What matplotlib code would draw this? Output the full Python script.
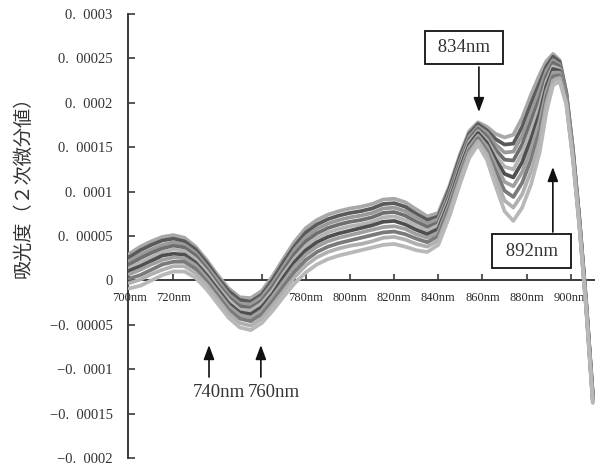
import matplotlib
matplotlib.use('Agg')
import matplotlib.pyplot as plt

# ---------------- data (values in units of 1e-5) ----------------
wavelengths = [700, 705, 710, 715, 720, 725, 730, 735, 740, 745, 750, 755, 760, 765, 770,
               775, 780, 785, 790, 795, 800, 805, 810, 815, 820, 825, 830, 835, 840, 845,
               850, 854, 858, 862, 866, 870, 874, 878, 882, 886, 889, 892, 895, 898, 901,
               904, 907, 910]

s1 = [3.0, 3.8, 4.4, 4.9, 5.1, 4.8, 3.8, 2.3, 0.6, -0.9, -1.9, -2.0, -1.2, 0.5, 2.5, 4.4, 5.9, 6.8, 7.4, 7.8,
      8.1, 8.3, 8.6, 9.1, 9.2, 8.8, 8.0, 7.2, 7.6, 10.6, 14.3, 16.8, 17.8, 17.3, 16.5, 16.1, 16.4, 18.3, 20.9, 23.2,
      24.7, 25.5, 24.8, 21.2, 14.8, 6.8, -2.4, -12.8]
s2 = [2.6, 3.4, 4.0, 4.5, 4.7, 4.4, 3.5, 2.0, 0.3, -1.2, -2.2, -2.4, -1.6, 0.1, 2.1, 3.9, 5.4, 6.3, 6.9, 7.3,
      7.6, 7.8, 8.1, 8.6, 8.7, 8.3, 7.5, 6.8, 7.2, 10.3, 14.0, 16.5, 17.6, 16.9, 15.9, 15.3, 15.4, 17.3, 19.9, 22.3,
      24.1, 25.2, 24.6, 21.1, 14.7, 6.7, -2.5, -12.9]
s3 = [2.2, 2.9, 3.5, 4.0, 4.3, 4.0, 3.1, 1.6, 0.0, -1.6, -2.6, -2.7, -1.9, -0.3, 1.6, 3.5, 4.9, 5.8, 6.4, 6.8,
      7.1, 7.3, 7.6, 8.1, 8.2, 7.8, 7.1, 6.4, 6.9, 9.9, 13.6, 16.2, 17.3, 16.6, 15.3, 14.4, 14.5, 16.3, 18.9, 21.5,
      23.6, 24.8, 24.3, 20.9, 14.6, 6.6, -2.6, -13.0]
s4 = [1.8, 2.5, 3.1, 3.6, 3.9, 3.7, 2.8, 1.3, -0.4, -1.9, -2.9, -3.1, -2.3, -0.7, 1.2, 3.0, 4.4, 5.3, 5.9, 6.3,
      6.6, 6.8, 7.1, 7.6, 7.7, 7.3, 6.6, 6.0, 6.5, 9.6, 13.3, 15.9, 17.1, 16.2, 14.7, 13.6, 13.5, 15.3, 17.9, 20.6,
      23.0, 24.5, 24.1, 20.8, 14.4, 6.5, -2.6, -13.1]
s5 = [1.4, 2.0, 2.6, 3.2, 3.5, 3.3, 2.4, 1.0, -0.7, -2.2, -3.3, -3.4, -2.6, -1.1, 0.8, 2.5, 3.9, 4.8, 5.4, 5.8,
      6.1, 6.3, 6.6, 7.1, 7.2, 6.8, 6.2, 5.6, 6.2, 9.2, 13.0, 15.6, 16.8, 15.8, 14.1, 12.8, 12.5, 14.3, 16.9, 19.7,
      22.4, 24.1, 23.8, 20.6, 14.3, 6.4, -2.7, -13.2]
s6 = [1.1, 1.6, 2.2, 2.8, 3.0, 2.9, 2.0, 0.6, -1.0, -2.6, -3.6, -3.8, -3.0, -1.5, 0.4, 2.1, 3.4, 4.3, 4.9, 5.3,
      5.6, 5.9, 6.2, 6.6, 6.7, 6.3, 5.7, 5.2, 5.8, 8.9, 12.7, 15.3, 16.6, 15.5, 13.6, 12.0, 11.6, 13.3, 15.9, 18.9,
      21.9, 23.8, 23.6, 20.5, 14.2, 6.3, -2.8, -13.3]
s7 = [0.7, 1.2, 1.8, 2.3, 2.6, 2.5, 1.7, 0.3, -1.3, -2.9, -3.9, -4.2, -3.4, -1.8, -0.1, 1.6, 2.9, 3.8, 4.4, 4.8,
      5.1, 5.4, 5.7, 6.0, 6.1, 5.8, 5.2, 4.8, 5.4, 8.6, 12.3, 15.0, 16.3, 15.1, 13.0, 11.1, 10.6, 12.2, 14.8, 18.0,
      21.3, 23.4, 23.4, 20.4, 14.1, 6.2, -2.9, -13.4]
s8 = [0.2, 0.6, 1.2, 1.8, 2.1, 2.1, 1.3, -0.1, -1.7, -3.3, -4.3, -4.6, -3.8, -2.3, -0.6, 1.0, 2.3, 3.2, 3.8, 4.2,
      4.5, 4.8, 5.1, 5.4, 5.5, 5.2, 4.7, 4.3, 5.0, 8.2, 11.9, 14.6, 16.0, 14.6, 12.3, 10.1, 9.4, 11.0, 13.6, 16.9,
      20.6, 23.0, 23.1, 20.2, 13.9, 6.1, -3.0, -13.5]
s9 = [-0.3, 0.1, 0.7, 1.2, 1.6, 1.6, 0.8, -0.5, -2.1, -3.7, -4.8, -5.1, -4.3, -2.8, -1.2, 0.4, 1.7, 2.6, 3.2, 3.6,
      3.9, 4.1, 4.4, 4.8, 4.9, 4.6, 4.1, 3.8, 4.5, 7.7, 11.5, 14.3, 15.7, 14.2, 11.5, 9.0, 8.2, 9.7, 12.3, 15.8,
      19.9, 22.5, 22.8, 20.0, 13.8, 6.0, -3.1, -13.7]
s10 = [-0.9, -0.6, 0.0, 0.6, 1.0, 1.0, 0.3, -1.0, -2.6, -4.2, -5.3, -5.6, -4.8, -3.4, -1.8, -0.3, 0.9, 1.8, 2.4, 2.8,
       3.1, 3.4, 3.7, 4.0, 4.1, 3.8, 3.4, 3.2, 4.0, 7.2, 11.0, 13.8, 15.3, 13.6, 10.6, 7.8, 6.7, 8.2, 10.8, 14.5,
       19.0, 22.0, 22.4, 19.8, 13.6, 5.8, -3.2, -13.8]

series = [s1, s2, s3, s4, s5, s6, s7, s8, s9, s10]
colors = ['#a8a8a8', '#5a5a5a', '#9a9a9a', '#6e6e6e', '#b4b4b4',
          '#4f4f4f', '#a0a0a0', '#7a7a7a', '#b0b0b0', '#b8b8b8']
UNIT = 1e-5

xtick_vals = [700, 720, 740, 760, 780, 800, 820, 840, 860, 880, 900]
xtick_labels = ['700nm', '720nm', '', '', '780nm', '800nm',
                '820nm', '840nm', '860nm', '880nm', '900nm']
ytick_vals = [-0.0002, -0.00015, -0.0001, -0.00005, 0, 0.00005, 0.0001,
              0.00015, 0.0002, 0.00025, 0.0003]
ytick_labels = ['\u22120.  0002', '\u22120.  00015', '\u22120.  0001', '\u22120.  00005', '0',
                '0.  00005', '0.  0001', '0.  00015', '0.  0002', '0.  00025', '0.  0003']
ylabel = '吸光度（２次微分値）'

# ---------------- figure ----------------
plt.rcParams['font.family'] = ['Liberation Serif', 'DejaVu Serif']
fig = plt.figure(figsize=(5.95, 4.7), dpi=100)
ax = fig.add_axes([128 / 595, 12 / 470, 467 / 595, 444 / 470])

for s, c in zip(series, colors):
    ax.plot(wavelengths, [v * UNIT for v in s], color=c, lw=2.7,
            solid_joinstyle='round', solid_capstyle='round', zorder=2)

ax.set_xlim(699.4, 911)
ax.set_ylim(-0.0002, 0.0003)

ax.spines['top'].set_visible(False)
ax.spines['right'].set_visible(False)
ax.spines['bottom'].set_position(('data', 0))
for sp in ('left', 'bottom'):
    ax.spines[sp].set_color('#3a3a3a')
    ax.spines[sp].set_linewidth(1.4)
    ax.spines[sp].set_zorder(1)

ax.set_xticks(xtick_vals)
ax.set_xticklabels(xtick_labels)
ax.set_yticks(ytick_vals)
ax.set_yticklabels(ytick_labels)
ax.tick_params(axis='x', direction='in', length=4, width=1.2, pad=8,
               labelsize=9, colors='#3a3a3a', labelcolor='#2a2a2a')
ax.tick_params(axis='y', direction='in', length=5, width=1.2, pad=11,
               labelsize=10.5, colors='#3a3a3a', labelcolor='#333333')
ax.xaxis.set_zorder(1.5)

fig.text(23 / 595, 1 - 182 / 470, ylabel, rotation=90, ha='center', va='center',
         fontsize=13.8, family=['Noto Sans CJK JP', 'DejaVu Sans'], color='#333333')

# ---------------- annotations ----------------
arrow_kw = dict(arrowstyle='-|>,head_length=0.43,head_width=0.16', color='#111111',
                lw=1.2, mutation_scale=20, shrinkA=0, shrinkB=0)
box_kw = dict(boxstyle='square,pad=0.45', fc='white', ec='#111111', lw=1.3)

ax.text(851.6, 2.623e-4, ' 834nm ', ha='center', va='center', fontsize=13.5,
        color='#333333', bbox=box_kw, zorder=5)
ax.annotate('', xy=(858.4, 1.896e-4), xytext=(858.4, 2.403e-4), arrowprops=arrow_kw, zorder=5)

ax.text(882.2, 0.331e-4, ' 892nm ', ha='center', va='center', fontsize=13.5,
        color='#333333', bbox=box_kw, zorder=5)
ax.annotate('', xy=(891.9, 1.277e-4), xytext=(891.9, 0.545e-4), arrowprops=arrow_kw, zorder=5)

ax.annotate('', xy=(736.1, -0.728e-4), xytext=(736.1, -1.088e-4), arrowprops=arrow_kw, zorder=5)
ax.annotate('', xy=(759.6, -0.728e-4), xytext=(759.6, -1.088e-4), arrowprops=arrow_kw, zorder=5)
ax.text(740.6, -1.268e-4, '740nm', ha='center', va='center', fontsize=13.5, color='#333333')
ax.text(765.5, -1.268e-4, '760nm', ha='center', va='center', fontsize=13.5, color='#333333')

fig.savefig('out.png', dpi=100)
